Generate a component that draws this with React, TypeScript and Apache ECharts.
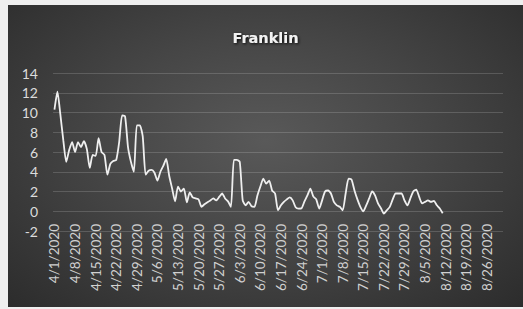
import React, { useEffect, useRef } from "react";
import * as echarts from "echarts";

const title = "Franklin";

// daily values from 4/1/2020 onward
const values: number[] = [
  10.3, 12.1, 9.8, 7.2, 5.0, 6.2, 7.0, 6.0, 7.0, 6.5,
  7.1, 6.3, 4.4, 5.7, 5.6, 7.4, 6.0, 5.7, 3.7, 4.8,
  5.1, 5.2, 7.0, 9.7, 9.6, 6.5, 5.0, 4.0, 8.7, 8.7,
  7.6, 3.7, 4.1, 4.2, 3.9, 3.1, 4.0, 4.6, 5.3, 3.6,
  2.3, 1.0, 2.5, 2.0, 2.3, 0.9, 1.9, 1.4, 1.3, 1.2,
  0.45, 0.7, 0.9, 1.1, 1.3, 1.1, 1.45, 1.8, 1.3, 1.0,
  0.45, 5.2, 5.2, 5.0, 1.1, 0.6, 0.95, 0.5, 0.45, 1.6,
  2.5, 3.3, 2.8, 3.1, 2.1, 1.8, 0.1, 0.6, 0.95, 1.2,
  1.4, 1.1, 0.4, 0.27, 0.3, 1.0, 1.6, 2.3, 1.5, 1.2,
  0.27, 1.1, 2.0, 2.1, 1.8, 0.95, 0.6, 0.45, 0.1, 1.8,
  3.3, 3.2, 2.1, 1.2, 0.45, 0.0, 0.6, 1.3, 2.0, 1.6,
  0.8, 0.3, -0.23, 0.1, 0.45, 1.2, 1.8, 1.8, 1.8, 1.1,
  0.6, 1.3, 2.0, 2.2, 1.45, 0.8, 0.95, 1.1, 0.95, 1.05,
  0.6, 0.27, -0.2,
];

const firstDay = { month: 4, day: 1, year: 2020 };
const dayCount = 153; // 4/1/2020 .. 8/31/2020

const yMin = -2;
const yMax = 14;
const yStep = 2;

function buildCategories(): string[] {
  const out: string[] = [];
  const d = new Date(firstDay.year, firstDay.month - 1, firstDay.day);
  for (let i = 0; i < dayCount; i++) {
    out.push(`${d.getMonth() + 1}/${d.getDate()}/${d.getFullYear()}`);
    d.setDate(d.getDate() + 1);
  }
  return out;
}

export default function App() {
  const ref = useRef<HTMLDivElement>(null);
  useEffect(() => {
    if (!ref.current) return;
    const chart = echarts.init(ref.current, undefined, { renderer: "svg" });
    const categories = buildCategories();
    chart.setOption({
      animation: false,
      backgroundColor: "transparent",
      title: {
        text: title,
        left: "center",
        top: 20,
        textStyle: {
          color: "#f2f2f2",
          fontFamily: "'DejaVu Sans', sans-serif",
          fontWeight: "bold",
          fontSize: 14.5,
          textShadowColor: "rgba(0,0,0,0.9)",
          textShadowBlur: 3,
          textShadowOffsetX: 1,
          textShadowOffsetY: 1,
        },
      },
      grid: { left: 45, right: 20, top: 68, bottom: 76 },
      xAxis: {
        type: "category",
        data: categories,
        boundaryGap: true,
        axisLine: { show: false, onZero: false },
        axisTick: { show: false },
        axisLabel: {
          interval: 6,
          rotate: 90,
          margin: -7,
          color: "#d0d0d0",
          fontSize: 13.5,
          fontFamily: "Lato, 'DejaVu Sans', sans-serif",
        },
        splitLine: { show: false },
      },
      yAxis: {
        type: "value",
        min: yMin,
        max: yMax,
        interval: yStep,
        axisLine: { show: false },
        axisTick: { show: false },
        axisLabel: {
          margin: 15,
          color: "#dcdcdc",
          fontSize: 14,
          fontFamily: "Lato, 'DejaVu Sans', sans-serif",
        },
        splitLine: { lineStyle: { color: "rgba(255,255,255,0.16)", width: 1 } },
      },
      series: [
        {
          type: "line",
          data: values,
          showSymbol: false,
          smooth: 0.2,
          lineStyle: { color: "#efefef", width: 1.8 },
        },
      ],
    });
    return () => chart.dispose();
  }, []);
  return (
    <div style={{ position: "fixed", inset: 0, background: "#efefef", margin: 0 }}>
      <div
        style={{
          position: "absolute",
          left: 8,
          top: 5,
          width: 515,
          height: 302,
          background:
            "radial-gradient(ellipse at 50% 45%, #595959 0%, #464646 45%, #2c2c2c 100%)",
        }}
      >
        <div ref={ref} style={{ width: 515, height: 302 }} />
      </div>
    </div>
  );
}
